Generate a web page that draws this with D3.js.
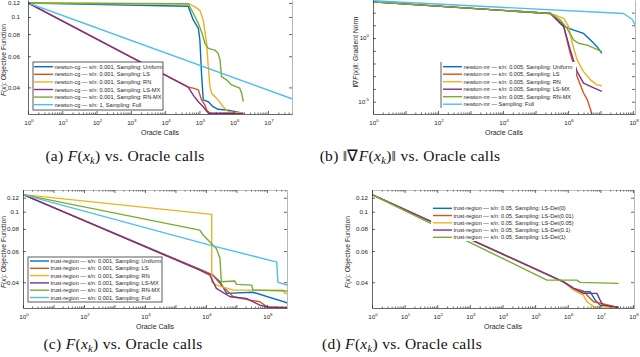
<!DOCTYPE html>
<html>
<head>
<meta charset="utf-8">
<script src="https://cdn.jsdelivr.net/npm/d3@7"></script>
<style>
  body { margin: 0; background: #fff; }
  svg { display: block; }
</style>
</head>
<body>
<svg id="fig" width="640" height="357"></svg>
<script>
// MATLAB default colour order
const colors = ["#0072BD", "#D95319", "#EDB120", "#7E2F8E", "#77AC30", "#4DBEEE"];

// ---- data: [oracle calls, value] ----
// (a) newton-cg, objective
const aUniform = [[1,0.12],[4.7e4,0.115],[6.6e4,0.0962],[9.3e4,0.0863],[1.03e5,0.0741],[1.15e5,0.0481],[1.29e5,0.034],[1.81e5,0.0332],[2.5e5,0.0311],[3.5e5,0.0301],[6.2e5,0.0298],[1.9e6,0.0286]];
const aLS = [[1,0.12],[4.7e4,0.0401],[6.6e4,0.0396],[9.3e4,0.0387],[1.15e5,0.034],[1.45e5,0.0318],[1.62e5,0.0298],[2.03e5,0.0286],[1.9e6,0.0286]];
const aRN = [[1,0.12],[5.3e4,0.118],[7.4e4,0.114],[1.03e5,0.109],[1.29e5,0.0962],[1.62e5,0.071],[1.81e5,0.0524],[2.03e5,0.0404],[2.27e5,0.0371],[2.8e5,0.0355],[3.5e5,0.034],[4.9e5,0.0311],[6.9e5,0.0292],[1.9e6,0.0286]];
const aLSMX = [[1,0.12],[4.7e4,0.0401],[6.6e4,0.0362],[9.3e4,0.0332],[1.29e5,0.0311],[1.81e5,0.0286],[1.9e6,0.0284]];
const aRNMX = [[1,0.12],[4.7e4,0.119],[6.6e4,0.105],[9.3e4,0.092],[1.15e5,0.0826],[1.45e5,0.071],[1.81e5,0.0665],[2.8e5,0.065],[3.5e5,0.0623],[4.0e5,0.0571],[4.4e5,0.046],[6.2e5,0.0441],[8.7e5,0.0413],[1.5e6,0.0396],[1.7e6,0.0371],[1.9e6,0.0332]];
const aFull = [[1,0.12],[5e7,0.0345]];
const aNames = ["newton-cg \u2014 s/n: 0.001, Sampling: Uniform","newton-cg \u2014 s/n: 0.001, Sampling: LS","newton-cg \u2014 s/n: 0.001, Sampling: RN","newton-cg \u2014 s/n: 0.001, Sampling: LS-MX","newton-cg \u2014 s/n: 0.001, Sampling: RN-MX","newton-cg \u2014 s/n: 1, Sampling: Full"];

// (b) newton-mr, gradient norm
const bUniform = [[1,690],[2.9e5,85],[8.3e5,7.6],[1.5e6,4.2],[3.0e6,2.3],[4.9e6,0.69],[7.8e6,0.21],[1.1e7,0.063]];
const bLS = [[1,690],[2.9e5,85],[7.4e5,7.6],[1.17e6,0.063],[1.9e6,9.5e-4],[3.0e6,4.8e-5],[3.9e6,1.45e-5],[5.5e6,1e-6]];
const bRN = [[1,690],[2.9e5,85],[7.4e5,34.7],[1.05e6,7.6],[1.35e6,0.39],[1.9e6,0.019],[3.0e6,0.0023],[4.9e6,5.2e-4],[7.8e6,2.1e-4],[1.1e7,1.8e-4]];
const bLSMX = [[1,690],[2.9e5,85],[7.4e5,7.6],[1.17e6,0.115],[1.9e6,2.3e-3],[3.0e6,2.9e-4],[6.2e6,1.2e-4],[1.1e7,6.5e-5]];
const bRNMX = [[1,690],[2.9e5,85],[5.9e5,25.7],[9.3e5,5.75],[1.5e6,0.69],[2.1e6,0.39],[3.9e6,0.28],[1.1e7,0.085]];
const bFull = [[1,850],[5.1e7,85],[9.3e7,30],[1.2e8,10]];
const bNames = ["newton-mr \u2014 s/n: 0.005, Sampling: Uniform","newton-mr \u2014 s/n: 0.005, Sampling: LS","newton-mr \u2014 s/n: 0.005, Sampling: RN","newton-mr \u2014 s/n: 0.005, Sampling: LS-MX","newton-mr \u2014 s/n: 0.005, Sampling: RN-MX","newton-mr \u2014 Sampling: Full"];

// (c) trust-region, objective
const cUniform = [[1,0.125],[6.3e5,0.0472],[1.7e6,0.0438],[2.9e6,0.0402],[4.8e6,0.0346],[3.5e7,0.0351],[4.7e8,0.0306]];
const cLS = [[1,0.125],[6.3e5,0.0472],[1.7e6,0.0438],[3.2e6,0.0385],[7.9e6,0.0331],[2.8e7,0.0317],[5.9e7,0.031],[9.8e7,0.0291],[4.7e8,0.0288]];
const cRN = [[1,0.125],[1.55e6,0.0966],[1.55e6,0.0402],[2.2e6,0.0385],[7.9e6,0.0361],[3.4e8,0.0361],[3.9e8,0.0346],[4.7e8,0.0346]];
const cLSMX = [[1,0.125],[6.3e5,0.0468],[1.35e6,0.0438],[2.2e6,0.0369],[6.2e6,0.0331],[2.1e7,0.0324],[5.9e7,0.0297],[1.26e8,0.0288],[4.7e8,0.0287]];
const cRNMX = [[1,0.125],[6.3e5,0.0788],[8.1e5,0.0738],[2.2e6,0.0621],[2.9e6,0.0545],[3.2e6,0.0402],[8.9e6,0.0406],[1.0e7,0.0389],[3.2e7,0.0385],[3.5e7,0.0361],[4.7e8,0.0357]];
const cFull = [[1,0.125],[1.35e6,0.0648],[1.6e8,0.0526],[2.1e8,0.0521],[2.3e8,0.0399],[4.7e8,0.0385]];
const cNames = ["trust-region \u2014 s/n: 0.001, Sampling: Uniform","trust-region \u2014 s/n: 0.001, Sampling: LS","trust-region \u2014 s/n: 0.001, Sampling: RN","trust-region \u2014 s/n: 0.001, Sampling: LS-MX","trust-region \u2014 s/n: 0.001, Sampling: RN-MX","trust-region \u2014 s/n: 0.001, Sampling: Full"];

// (d) trust-region, LS-Det sweep
const dDet0 = [[1,0.125],[7.4e5,0.0402],[1.5e6,0.0369],[3.0e6,0.0353],[4.9e6,0.0353],[6.9e6,0.0317],[9.8e6,0.0297],[3.6e7,0.0288]];
const dDet001 = [[1,0.125],[7.4e5,0.0402],[1.5e6,0.0369],[3.0e6,0.0357],[3.9e6,0.0338],[6.2e6,0.031],[3.6e7,0.0288]];
const dDet005 = [[1,0.125],[7.4e5,0.0402],[1.5e6,0.0361],[3.0e6,0.0338],[3.9e6,0.031],[6.2e6,0.0291],[3.6e7,0.0288]];
const dDet01 = [[1,0.125],[7.4e5,0.0402],[1.5e6,0.0369],[3.0e6,0.0346],[7.8e6,0.0346],[9.8e6,0.0317],[1.2e7,0.0297],[3.6e7,0.0288]];
const dDet1 = [[1,0.125],[2.3e5,0.0411],[1.9e6,0.0411],[2.4e6,0.0399],[3.6e7,0.0394]];
const dNames = ["trust-region \u2014 s/n: 0.05, Sampling: LS-Det(0)","trust-region \u2014 s/n: 0.05, Sampling: LS-Det(0.01)","trust-region \u2014 s/n: 0.05, Sampling: LS-Det(0.05)","trust-region \u2014 s/n: 0.05, Sampling: LS-Det(0.1)","trust-region \u2014 s/n: 0.05, Sampling: LS-Det(1)"];

// tick labels
const objTicks = [0.04, 0.06, 0.08, 0.1, 0.12];
const objTickText = ["0.04", "0.06", "0.08", "0.1", "0.12"];
const gradTickExp = [-5, 0];
const gradTickMarks = [-5, -4, -3, -2, -1, 0, 1, 2];

const svg = d3.select("#fig");
const sans = "Liberation Sans, Arial, sans-serif";
const serif = "Liberation Serif, Times New Roman, serif";
const axisCol = "#262626";

function sup(sel, base, exp) {
  sel.text(base);
  sel.append("tspan").attr("dy", -3).attr("font-size", 4.4).text(exp);
}

function drawPanel(p) {
  const x = d3.scaleLog().domain(p.xDomain).range([p.left, p.right]);
  const y = d3.scaleLog().domain(p.yDomain).range([p.bottom, p.top]);
  const g = svg.append("g");

  g.append("clipPath").attr("id", "clip" + p.id)
    .append("rect").attr("x", p.left).attr("y", p.top)
    .attr("width", p.right - p.left).attr("height", p.bottom - p.top);

  const line = d3.line().x(d => x(d[0])).y(d => y(d[1]));
  g.append("g").attr("clip-path", `url(#clip${p.id})`)
    .selectAll("path").data(p.series).join("path")
    .attr("d", line)
    .attr("fill", "none")
    .attr("stroke", (d, i) => colors[i])
    .attr("stroke-width", 1.4)
    .attr("stroke-linejoin", "round");

  // log decades + minor ticks
  const hi = Math.floor(Math.log10(p.xDomain[1]) + 1e-9);
  const majors = d3.range(0, hi + 1).map(k => Math.pow(10, k));
  const minors = [];
  majors.forEach(m => { for (let j = 2; j < 10; j++) if (m * j < p.xDomain[1]) minors.push(m * j); });

  const styleAxis = a => { a.selectAll("path,line").attr("stroke", axisCol).attr("stroke-width", 0.7); };

  g.append("g").attr("transform", `translate(0,${p.bottom})`)
    .call(d3.axisBottom(x).tickValues(majors).tickSize(-3).tickSizeOuter(0).tickFormat(""))
    .call(styleAxis);
  g.append("g").attr("transform", `translate(0,${p.bottom})`)
    .call(d3.axisBottom(x).tickValues(minors).tickSize(-1.5).tickFormat(""))
    .call(a => a.select(".domain").remove())
    .call(styleAxis);
  if (p.topAxis) {
    g.append("g").attr("transform", `translate(0,${p.top})`)
      .call(d3.axisTop(x).tickValues(majors).tickSize(-3).tickSizeOuter(0).tickFormat(""))
      .call(styleAxis).call(a => a.select(".domain").attr("stroke", "#aaa"));
    g.append("g").attr("transform", `translate(0,${p.top})`)
      .call(d3.axisTop(x).tickValues(minors).tickSize(-1.5).tickFormat(""))
      .call(a => a.select(".domain").remove())
      .call(styleAxis);
  }

  // right axis (ticks only)
  g.append("g").attr("transform", `translate(${p.right},0)`)
    .call(d3.axisRight(y).tickValues(p.yTicks).tickSize(-3).tickSizeOuter(0).tickFormat(""))
    .call(styleAxis).call(a => a.select(".domain").attr("stroke", "#999"));

  // legend
  const L = p.legend;
  const lg = g.append("g");
  lg.append("rect").attr("x", L.x).attr("y", L.y).attr("width", L.w).attr("height", L.h)
    .attr("fill", "#fff")
    .attr("stroke", L.border === "box" ? "#333" : "none").attr("stroke-width", 0.8);
  if (L.border === "left") {
    lg.append("line").attr("x1", L.x).attr("x2", L.x).attr("y1", L.y).attr("y2", L.y + L.h)
      .attr("stroke", "#333").attr("stroke-width", 0.8);
  }
  p.names.forEach((nm, i) => {
    const yy = L.row0 + i * L.step;
    lg.append("line").attr("x1", L.sx).attr("x2", L.sx + 19).attr("y1", yy).attr("y2", yy)
      .attr("stroke", colors[i]).attr("stroke-width", 1.4);
    lg.append("text").attr("x", L.sx + 20.5).attr("y", yy + 2)
      .style("font-family", sans).attr("font-size", 5.6).attr("fill", "#262626").text(nm);
  });

  // x tick labels and titles
  const lab = g.append("g").style("font-family", sans).attr("font-size", 6.2).attr("fill", "#262626");
  p.xLabels.forEach(k => {
    lab.append("text").attr("x", x(Math.pow(10, k)) + 1).attr("y", p.bottom + 11)
      .attr("text-anchor", "middle").call(s => sup(s, "10", k));
  });
  lab.append("text").attr("x", (p.left + p.right) / 2).attr("y", p.bottom + 21)
    .attr("text-anchor", "middle").attr("font-size", 7).text("Oracle Calls");
  const yt = lab.append("text")
    .attr("transform", `translate(${p.yTitleX},${p.yTitleY}) rotate(-90)`)
    .attr("text-anchor", "middle").attr("font-size", 6.8);
  p.yTitle.forEach(([s, st]) => {
    yt.append("tspan").attr("font-style", st === "i" ? "italic" : null).text(s);
  });

  // left axis with its labels, drawn last
  const left = g.append("g").attr("transform", `translate(${p.left},0)`)
    .call(d3.axisLeft(y).tickValues(p.yTicks).tickSize(-3).tickSizeOuter(0).tickPadding(p.pad)
      .tickFormat(p.yPow ? "" : (d, i) => p.yTickText[i]))
    .call(styleAxis);
  left.attr("font-size", 6.2).style("font-family", sans).attr("fill", null);
  left.selectAll("text").attr("fill", "#262626");
  if (p.yPow) {
    p.yLabels.forEach(v => {
      lab.append("text").attr("x", p.left - p.pad).attr("y", y(v) + 2.2)
        .attr("text-anchor", "end").call(s => sup(s, "10", Math.round(Math.log10(v))));
    });
  }

  // caption
  const cap = svg.append("text").attr("x", p.capX).attr("y", p.capY)
    .attr("text-anchor", "middle").style("font-family", serif).attr("font-size", 15.5)
    .attr("letter-spacing", 0.3).attr("fill", "#111");
  let down = false;
  p.caption.forEach(([s, st]) => {
    const t = cap.append("tspan").text(s);
    if (st === "i" || st === "sub") t.attr("font-style", "italic");
    if (st === "sub") { t.attr("font-size", 10.5).attr("dy", 3); down = true; }
    else if (down) { t.attr("dy", -3); down = false; }
  });
}

const yObjTitle = [["F", "i"], ["(", ""], ["x", "i"], ["): Objective Function", ""]];
const yGradTitle = [["\u2016\u2207", ""], ["F", "i"], ["(", ""], ["x", "i"], [")\u2016: Gradient Norm", ""]];
const capF = l => [[`(${l}) `, ""], ["F", "i"], ["(", ""], ["x", "i"], ["k", "sub"], [")", ""], [" vs. Oracle calls", ""]];
const capG = [["(b) \u2016\u2207", ""], ["F", "i"], ["(", ""], ["x", "i"], ["k", "sub"], [")\u2016", ""], [" vs. Oracle calls", ""]];

drawPanel({
  id: "a", left: 28, right: 292, top: 0, bottom: 114,
  xDomain: [1, Math.pow(10, 7.70)], yDomain: [0.0283, 0.1247],
  series: [aUniform, aLS, aRN, aLSMX, aRNMX, aFull], names: aNames,
  xLabels: [0, 1, 2, 3, 4, 5, 6, 7], yTicks: objTicks, yTickText: objTickText, pad: 8,
  yTitle: yObjTitle, yTitleX: 6, yTitleY: 60,
  legend: { x: 33, y: 62, w: 130, h: 48, row0: 66.7, step: 7.6, sx: 34, border: "box" },
  caption: capF("a"), capX: 125, capY: 161
});
drawPanel({
  id: "b", left: 373, right: 635, top: 0, bottom: 114,
  xDomain: [1, Math.pow(10, 8.06)], yDomain: [Math.pow(10, -5.97), Math.pow(10, 2.99)],
  series: [bUniform, bLS, bRN, bLSMX, bRNMX, bFull], names: bNames,
  xLabels: [0, 2, 4, 6, 8], yTicks: gradTickMarks.map(k => Math.pow(10, k)),
  yLabels: gradTickExp.map(k => Math.pow(10, k)), yPow: true, pad: 4,
  yTitle: yGradTitle, yTitleX: 358, yTitleY: 52,
  legend: { x: 441, y: 62, w: 135, h: 46, row0: 66.7, step: 7.5, sx: 443, border: "left" },
  caption: capG, capX: 410, capY: 161
});
drawPanel({
  id: "c", left: 23, right: 287, top: 190, bottom: 308, topAxis: true,
  xDomain: [1, Math.pow(10, 8.66)], yDomain: [0.0286, 0.1327],
  series: [cUniform, cLS, cRN, cLSMX, cRNMX, cFull], names: cNames,
  xLabels: [0, 2, 4, 6, 8], yTicks: objTicks, yTickText: objTickText, pad: 4,
  yTitle: yObjTitle, yTitleX: 6, yTitleY: 252,
  legend: { x: 28, y: 257, w: 134, h: 45, row0: 261, step: 7.3, sx: 30, border: "box" },
  caption: capF("c"), capX: 123, capY: 349
});
drawPanel({
  id: "d", left: 372, right: 634, top: 190, bottom: 308, topAxis: true,
  xDomain: [1, Math.pow(10, 8.03)], yDomain: [0.0286, 0.1327],
  series: [dDet0, dDet001, dDet005, dDet01, dDet1], names: dNames,
  xLabels: [0, 1, 2, 3, 4, 5, 6, 7, 8], yTicks: objTicks, yTickText: objTickText, pad: 4,
  yTitle: yObjTitle, yTitleX: 350, yTitleY: 252,
  legend: { x: 431, y: 204, w: 145, h: 37, row0: 208.3, step: 7.25, sx: 433, border: "none" },
  caption: capF("d"), capX: 402, capY: 349
});
</script>
</body>
</html>
